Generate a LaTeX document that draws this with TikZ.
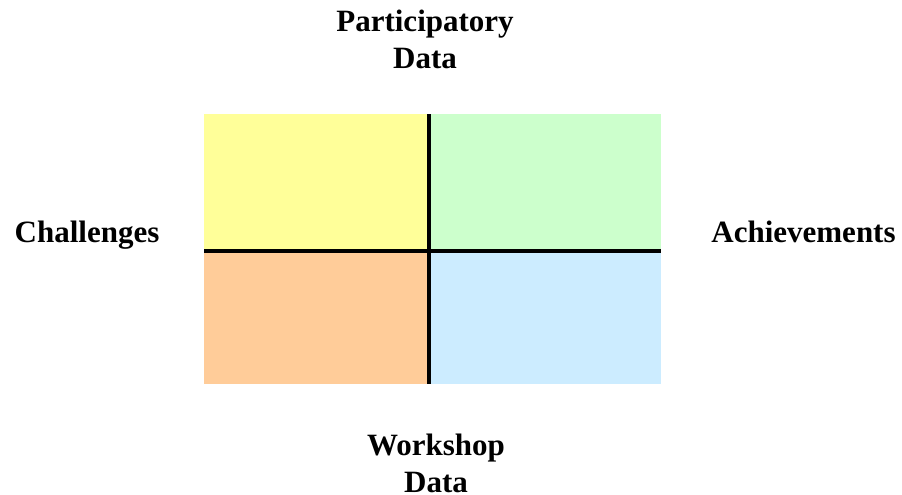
\documentclass[tikz,border=0pt]{standalone}
\usepackage{fontspec}
\setmainfont{Liberation Serif}
\definecolor{qyellow}{HTML}{FFFF99}
\definecolor{qgreen}{HTML}{CCFFCC}
\definecolor{qorange}{HTML}{FFCC99}
\definecolor{qblue}{HTML}{CCECFF}
\tikzset{
  lbl/.style={font=\bfseries\fontsize{31}{37}\selectfont, align=center, inner sep=0pt, anchor=base},
  divider/.style={line width=4pt, black}
}
\begin{document}
\begin{tikzpicture}[x=1pt,y=-1pt]
\useasboundingbox (0,0) rectangle (902,495);
\fill[qyellow] (204,114) rectangle (429,251);
\fill[qgreen] (429,114) rectangle (661,251);
\fill[qorange] (204,251) rectangle (429,384);
\fill[qblue] (429,251) rectangle (661,384);
\coordinate (vt) at (429,114);
\coordinate (vb) at (429,384);
\coordinate (hl) at (204,251);
\coordinate (hr) at (661,251);
\draw[divider] (vt) -- (vb);
\draw[divider] (hl) -- (hr);
\node[lbl] (top) at (425,69) {Participatory\\Data};
\node[lbl] (bottom) at (436,492) {Workshop\\Data};
\node[lbl] (left) at (87,242) {Challenges};
\node[lbl] (right) at (803.5,242) {Achievements};
\end{tikzpicture}
\end{document}
